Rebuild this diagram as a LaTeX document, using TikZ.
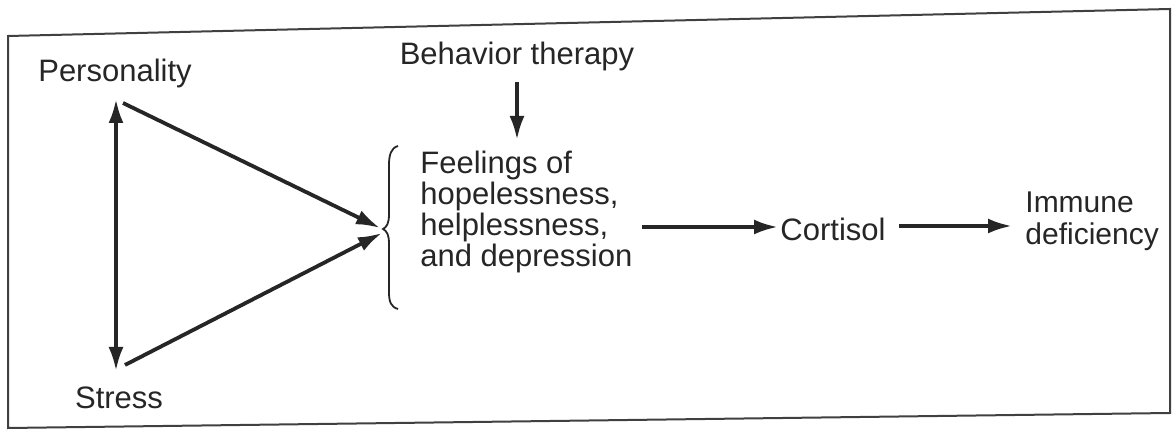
\documentclass[tikz,border=0pt]{standalone}
\usepackage{fontspec}
\setmainfont{Liberation Sans}
\usetikzlibrary{arrows.meta}
\begin{document}
\begin{tikzpicture}[x=0.5pt,y=-0.5pt,
  lbl/.style={font=\fontsize{15.5}{15.5}\selectfont, text=black!85, inner sep=0pt},
  conn/.style={line width=1.9pt, draw=black!85, -{Latex[length=12pt,width=7.5pt]}},
  dconn/.style={line width=1.9pt, draw=black!85, {Latex[length=12pt,width=7.5pt]}-{Latex[length=12pt,width=7.5pt]}},
  framel/.style={line width=1pt, draw=black!75},
  bracel/.style={line width=0.9pt, draw=black!85}]
\useasboundingbox (0,0) rectangle (1173,432);
\fill[white] (0,0) rectangle (1173,432);
% frame
\coordinate (f1) at (8,36);
\coordinate (f2) at (1170,9);
\coordinate (f3) at (1170,413);
\coordinate (f4) at (8,428);
\draw[framel] (f1) -- (f2) -- (f3) -- (f4) -- cycle;
% nodes
\node[lbl] (pers) at (115,73) {Personality};
\node[lbl] (stress) at (119,398) {Stress};
\node[lbl] (beh) at (517,56) {Behavior therapy};
\node[lbl, anchor=west, align=left] (feel) at (420,212) {Feelings of\\hopelessness,\\helplessness,\\and depression};
\node[lbl] (cort) at (833,229) {Cortisol};
\node[lbl, align=left, anchor=west, font=\fontsize{15}{16}\selectfont] (imm) at (1025,221) {Immune\\deficiency};
% connector end points
\coordinate (pv) at (116,99);
\coordinate (sv) at (116,371);
\coordinate (ps) at (123,103);
\coordinate (ss) at (125,365);
\coordinate (tip1) at (380,228);
\coordinate (tip2) at (382,233);
\coordinate (bs) at (517,82);
\coordinate (be) at (517,140);
\coordinate (fs) at (642,227);
\coordinate (fe) at (778,227);
\coordinate (cs) at (899,226);
\coordinate (ce) at (1012,226);
% brace
\draw[bracel] (398,146) .. controls (391,148) and (389,155) .. (389,165)
  -- (389,214) .. controls (389,223) and (387,227) .. (383,229)
  .. controls (387,231) and (389,235) .. (389,244)
  -- (389,292) .. controls (389,302) and (391,307) .. (398,309);
% connectors
\draw[dconn] (pv) -- (sv);
\draw[conn] (ps) -- (tip1);
\draw[conn] (ss) -- (tip2);
\draw[conn] (bs) -- (be);
\draw[conn] (fs) -- (fe);
\draw[conn] (cs) -- (ce);
\end{tikzpicture}
\end{document}
